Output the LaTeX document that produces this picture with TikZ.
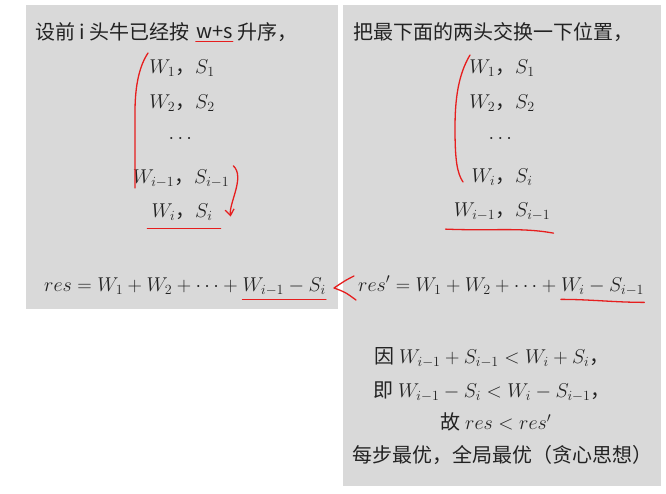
\documentclass[tikz,border=0pt]{standalone}
\usepackage{fix-cm}
\usepackage{fontspec}
\usepackage{amsmath}
\setmainfont{Noto Sans CJK SC}
\usetikzlibrary{positioning,arrows.meta}
\definecolor{panelgray}{HTML}{D9D9D9}
\definecolor{inkred}{HTML}{E61E1E}
\definecolor{textdark}{HTML}{222222}
\tikzset{
        panel/.style={fill=panelgray, draw=none},
        txt/.style={inner sep=0pt, text=textdark, font=\fontsize{20}{24}\selectfont},
        row/.style={txt, anchor=center},
        ink/.style={draw=inkred, line width=1.3pt, line cap=round, line join=round},
        ink_arrow/.style={ink, -{Straight Barb[length=6pt, width=9pt, line width=1.3pt]}}
    }

\begin{document}
\begin{tikzpicture}[x=1pt, y=-1pt]
    \useasboundingbox[fill=white] (0,0) rectangle (666,493);
    % two gray panels
    \fill[panel] (26,5) rectangle (338,309);
    \fill[panel] (343,5) rectangle (661,486);

    % left panel
    \node[txt, anchor=west] (ltitle) at (35,32) {设前 i 头牛已经按};
    \node[txt, right=6pt of ltitle] (lwps) {w+s};
    \node[txt, right=5pt of lwps] (lorder) {升序，};
    \node[row] (lr1) at (182,68) {$W_1$，$S_1$};
    \node[row] (lr2) at (182,103) {$W_2$，$S_2$};
    \node[row] (lr3) at (182,139) {$\cdots$};
    \node[row] (lrim) at (181,179) {$W_{i-1}$，$S_{i-1}$};
    \node[row] (lri) at (182,212) {$W_i$，$S_i$};

    % right panel
    \node[txt, anchor=west] (rtitle) at (353,32) {把最下面的两头交换一下位置，};
    \node[row] (rr1) at (502,68) {$W_1$，$S_1$};
    \node[row] (rr2) at (502,103) {$W_2$，$S_2$};
    \node[row] (rr3) at (502,139) {$\cdots$};
    \node[row] (rri) at (502,177) {$W_i$，$S_i$};
    \node[row] (rrim) at (502,212) {$W_{i-1}$，$S_{i-1}$};

    % the two sums
    \node[txt, anchor=base west] (leqa) at (44,291) {$res = W_1 + W_2 + \cdots + {}$};
    \node[txt, anchor=base west] (leqb) at (leqa.base east) {$W_{i-1} - S_i$};
    \node[txt, anchor=base west] (reqa) at (358,291) {$res' = W_1 + W_2 + \cdots + {}$};
    \node[txt, anchor=base west] (reqb) at (reqa.base east) {$W_i - S_{i-1}$};

    % reasoning
    \node[row] (because) at (492,358) {因 $W_{i-1} + S_{i-1} < W_i + S_i$，};
    \node[row] (thatis) at (492,392) {即 $W_{i-1} - S_i < W_i - S_{i-1}$，};
    \node[row] (hence) at (496,422) {故 $res < res'$};
    \node[row] (greedy) at (502,455) {每步最优，全局最优（贪心思想）};

    % red pen marks
    \draw[ink] ([yshift=-3pt]lwps.south west) -- ([yshift=-3pt]lwps.south east);
    \draw[ink] (148,53) .. controls (138,68) and (135,90) .. (135,112) -- (135,188);
    \draw[ink_arrow] ([xshift=4pt, yshift=4pt]lrim.north east)
        .. controls ([xshift=16pt, yshift=2pt]lrim.east) and ([xshift=16pt]lri.north east)
        .. ([xshift=18pt, yshift=4pt]lri.south east);
    \draw[ink] ([xshift=-4pt, yshift=-8pt]lri.south west) -- ([xshift=8pt, yshift=-8pt]lri.south east);
    \draw[ink] (470,55) .. controls (458,75) and (455,100) .. (455,128)
        .. controls (455,160) and (457,173) .. (463,182);
    \draw[ink] ([xshift=-8pt, yshift=-8pt]rrim.south west)
        .. controls ([xshift=40pt, yshift=-10pt]rrim.south west) and ([xshift=-30pt, yshift=-6pt]rrim.south east)
        .. ([xshift=3pt, yshift=-12pt]rrim.south east);
    \draw[ink] ([yshift=-4pt]leqb.south west) -- ([yshift=-4pt]leqb.south east);
    \draw[ink] ([yshift=-4pt]reqb.south west)
        .. controls ([xshift=30pt, yshift=-4pt]reqb.south west) and ([xshift=-30pt, yshift=-7pt]reqb.south east)
        .. ([yshift=-7pt]reqb.south east);
    \draw[ink] (354,276) .. controls (346,280) .. (334,288) .. controls (345,292) .. (356,300);
\end{tikzpicture}
\end{document}
